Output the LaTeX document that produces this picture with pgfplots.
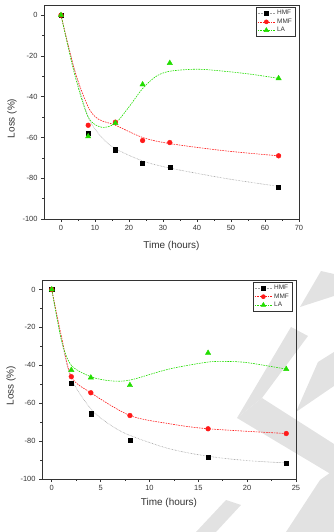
\documentclass[border=0pt]{standalone}
\usepackage{pgfplots}
\pgfplotsset{compat=1.18}
\usepackage{fontspec}
\setmainfont{Liberation Sans}

\definecolor{hmfline}{HTML}{A0A0A0}
\definecolor{mmfred}{HTML}{FF1A1A}
\definecolor{lagreen}{HTML}{22DD00}
\definecolor{axcol}{HTML}{333333}
\definecolor{wmark}{HTML}{E2E2E2}

\pgfplotsset{
  lossaxis/.style={
    scale only axis,
    ymin=-100, ymax=5,
    ytick={-100,-80,-60,-40,-20,0},
    minor y tick num=1,
    minor x tick num=1,
    tick align=outside,
    xtick pos=bottom, ytick pos=left,
    major tick length=3bp, minor tick length=1.8bp,
    every tick/.style={axcol, line width=0.6pt},
    axis line style={axcol, line width=0.8pt},
    tick label style={font=\fontsize{7.5}{8}\selectfont, text=axcol},
    /pgf/number format/assume math mode=true,
    label style={font=\fontsize{10}{12}\selectfont, text=axcol},
    ylabel={Loss (\%)},
    xlabel={Time (hours)},
    legend style={font=\fontsize{6.5}{7}\selectfont, draw=axcol, line width=0.6pt,
      inner sep=1pt, row sep=-1.5pt, cells={anchor=west}, text=axcol},
    legend image code/.code={
      \draw[##1, mark repeat=2, mark phase=2] plot coordinates {(0cm,0cm) (0.3cm,0cm) (0.6cm,0cm)};},
    clip=false,
  },
  hmfmark/.style={only marks, mark=square*, mark size=2.1, black},
  mmfmark/.style={only marks, mark=*, mark size=2.4, mmfred},
  lamark/.style={only marks, mark=triangle*, mark size=3.1, lagreen},
  hmfcurve/.style={smooth, no marks, hmfline, line width=0.6pt, dash pattern=on 0.6pt off 0.9pt},
  mmfcurve/.style={smooth, no marks, mmfred, line width=0.6pt, dash pattern=on 1.6pt off 1pt},
  lacurve/.style={smooth, no marks, lagreen, line width=0.6pt, dash pattern=on 1.6pt off 1pt},
}

\begin{document}
\begin{tikzpicture}
\path (0bp,0bp) rectangle (334bp,532bp);

% faint background lettering
\begin{scope}[x=1bp, y=-1bp, yshift=532bp]
  \fill[wmark] (321,271) -- (334,274) -- (334,296) -- (300,307) -- cycle;
  \fill[wmark] (291,327) -- (308,336) -- (262,398) -- (237,418) -- cycle;
  \fill[wmark] (237,418) -- (262,398) -- (334,444) -- (334,476) -- cycle;
  \fill[wmark] (318,362) -- (334,352) -- (334,386) -- (296,412) -- cycle;
  \fill[wmark] (320,480) -- (334,470) -- (334,532) -- (286,532) -- cycle;
  \fill[wmark] (226,500) -- (241,505) -- (216,532) -- (196,532) -- cycle;
\end{scope}

% ---------- upper panel: 0-64 h ----------
\begin{axis}[lossaxis,
  at={(44bp,313bp)}, anchor=south west,
  width=255bp, height=214bp,
  xmin=-5, xmax=70,
  xtick={0,10,...,70},
  xlabel style={at={(axis description cs:0.5,-0.125)}, anchor=center},
  ylabel style={at={(axis description cs:-0.125,0.47)}, anchor=center, rotate=0},
  legend style={at={(axis description cs:0.985,0.99)}, anchor=north east},
]
\addlegendimage{hmfline, dash pattern=on 0.6pt off 0.9pt, line width=0.6pt, mark=square*, mark size=1.8, mark options={solid, black}}
\addlegendentry{HMF}
\addlegendimage{mmfred, dash pattern=on 1.6pt off 1pt, line width=0.6pt, mark=*, mark size=2, mark options={solid, mmfred}}
\addlegendentry{MMF}
\addlegendimage{lagreen, dash pattern=on 1.6pt off 1pt, line width=0.6pt, mark=triangle*, mark size=2.6, mark options={solid, lagreen}}
\addlegendentry{LA}

% fitted trend curves
\addplot[hmfcurve, forget plot] coordinates {
  (0,0) (4,-27) (8,-50) (12,-60) (16,-65.5) (24,-71.5) (32,-75) (48,-80) (64,-84)};
\addplot[mmfcurve, forget plot] coordinates {
  (0,0) (4,-27) (8,-45) (11,-51) (16,-54) (24,-60) (32,-63) (48,-66.5) (64,-69)};
\addplot[lacurve, forget plot] coordinates {
  (0,0) (4,-29) (8,-50) (12,-55) (16,-53) (20,-45) (24,-36) (28,-30) (32,-27.5) (40,-26.5) (48,-27.5) (56,-29) (64,-31)};

% measured points
\addplot[hmfmark, forget plot] coordinates {
  (0,0) (8,-58) (16,-66) (24,-72.5) (32,-74.5) (64,-84.5)};
\addplot[mmfmark, forget plot] coordinates {
  (0,0) (8,-54) (16,-52.5) (24,-61.5) (32,-62.5) (64,-69)};
\addplot[lamark, forget plot] coordinates {
  (0,0) (8,-59.5) (16,-53) (24,-34) (32,-23.5) (64,-31)};
\end{axis}

% ---------- lower panel: 0-24 h ----------
\begin{axis}[lossaxis,
  at={(42bp,53bp)}, anchor=south west,
  width=254bp, height=199bp,
  xmin=-1, xmax=25,
  xtick={0,5,...,25},
  xlabel style={at={(axis description cs:0.5,-0.12)}, anchor=center},
  ylabel style={at={(axis description cs:-0.122,0.47)}, anchor=center, rotate=0},
  legend style={at={(axis description cs:0.985,0.99)}, anchor=north east},
]
\addlegendimage{hmfline, dash pattern=on 0.6pt off 0.9pt, line width=0.6pt, mark=square*, mark size=1.8, mark options={solid, black}}
\addlegendentry{HMF}
\addlegendimage{mmfred, dash pattern=on 1.6pt off 1pt, line width=0.6pt, mark=*, mark size=2, mark options={solid, mmfred}}
\addlegendentry{MMF}
\addlegendimage{lagreen, dash pattern=on 1.6pt off 1pt, line width=0.6pt, mark=triangle*, mark size=2.6, mark options={solid, lagreen}}
\addlegendentry{LA}

\addplot[hmfcurve, forget plot] coordinates {
  (0,0) (1,-27) (2,-47) (4,-63) (6,-71.5) (8,-77) (12,-84) (16,-88) (20,-90.3) (24,-91.5)};
\addplot[mmfcurve, forget plot] coordinates {
  (0,0) (1,-25) (2,-46) (4,-54.5) (8,-66.5) (12,-70.8) (16,-73.5) (24,-76)};
\addplot[lacurve, forget plot] coordinates {
  (0,0) (1,-27) (2,-40) (4,-46) (6,-48.2) (8,-47.8) (12,-42) (16,-38.3) (18,-38) (20,-38.6) (24,-42)};

\addplot[hmfmark, forget plot] coordinates {
  (0,0) (2,-49.5) (4,-65.5) (8,-79.5) (16,-88.5) (24,-91.5)};
\addplot[mmfmark, forget plot] coordinates {
  (0,0) (2,-46) (4,-54.5) (8,-66.5) (16,-73.5) (24,-76)};
\addplot[lamark, forget plot] coordinates {
  (0,0) (2,-42.5) (4,-46.5) (8,-50.5) (16,-33.5) (24,-42)};
\end{axis}
\end{tikzpicture}
\end{document}
